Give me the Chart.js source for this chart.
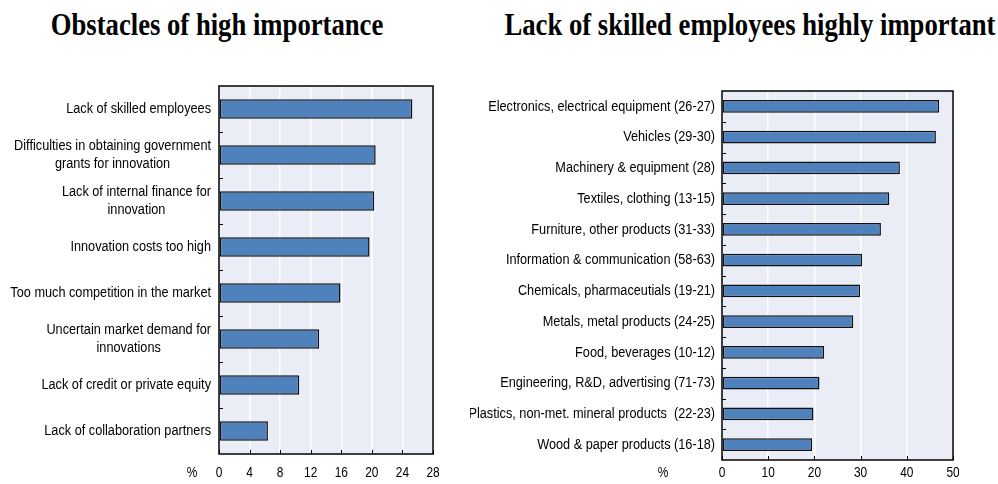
<!DOCTYPE html>
<html>
<head>
<meta charset="utf-8">
<script src="https://cdn.jsdelivr.net/npm/chart.js@4.4.1/dist/chart.umd.min.js"></script>
<style>
  body { margin: 0; background: #fff; width: 998px; height: 484px; position: relative; overflow: hidden; }
  .titre { position: absolute; top: 9px; font-family: 'Liberation Serif', 'Times New Roman', serif; font-weight: bold;
           font-size: 31px; line-height: 31px; white-space: nowrap; color: #000; transform: translateX(-50%) scaleX(0.86); }
  canvas { position: absolute; top: 0; }
</style>
</head>
<body>
<div class="titre" style="left:217px">Obstacles of high importance</div>
<div class="titre" style="left:750px">Lack of skilled employees highly important</div>
<canvas id="graficoSx" width="470" height="484" style="left:0"></canvas>
<canvas id="graficoDx" width="528" height="484" style="left:470px"></canvas>
<script>
// dati
const ostacoli = [
  'Lack of skilled employees',
  ['Difficulties in obtaining government', 'grants for innovation'],
  ['Lack of internal finance for', 'innovation'],
  'Innovation costs too high',
  'Too much competition in the market',
  ['Uncertain market demand for', 'innovations'],
  'Lack of credit or private equity',
  'Lack of collaboration partners'
];
const valoriOstacoli = [25.3, 20.5, 20.3, 19.7, 15.9, 13.1, 10.5, 6.4];
const tickOstacoli = [0, 4, 8, 12, 16, 20, 24, 28];

const settori = [
  'Electronics, electrical equipment (26-27)',
  'Vehicles (29-30)',
  'Machinery & equipment (28)',
  'Textiles, clothing (13-15)',
  'Furniture, other products (31-33)',
  'Information & communication (58-63)',
  'Chemicals, pharmaceutials (19-21)',
  'Metals, metal products (24-25)',
  'Food, beverages (10-12)',
  'Engineering, R&D, advertising (71-73)',
  'Plastics, non-met. mineral products  (22-23)',
  'Wood & paper products (16-18)'
];
const valoriSettori = [47.0, 46.3, 38.5, 36.2, 34.4, 30.3, 29.9, 28.4, 22.1, 21.1, 19.8, 19.5];
const tickSettori = [0, 10, 20, 30, 40, 50];

const blu = '#4f81bd';
const sfondo = '#eaedf6';
const font = "'Liberation Sans', Arial, sans-serif";
const stretto = 0.82; // testo compresso come nell'originale

function testo(ctx, s, x, y) {
  ctx.save();
  ctx.translate(x, y);
  ctx.scale(stretto, 1);
  ctx.fillText(s, 0, 0);
  ctx.restore();
}

// sfondo, bordo, tacche interne, etichette e simbolo %
const decorazioni = {
  id: 'decorazioni',
  beforeDraw(chart) {
    const a = chart.chartArea, ctx = chart.ctx;
    ctx.save();
    ctx.fillStyle = sfondo;
    ctx.fillRect(a.left, a.top, a.right - a.left, a.bottom - a.top);
    ctx.restore();
  },
  afterDraw(chart, args, opts) {
    const a = chart.chartArea, ctx = chart.ctx;
    const x = chart.scales.x, y = chart.scales.y;
    ctx.save();
    ctx.strokeStyle = '#000';
    ctx.lineWidth = 1.5;
    ctx.strokeRect(a.left, a.top, a.right - a.left, a.bottom - a.top);
    ctx.lineWidth = 1;
    ctx.beginPath();
    for (let i = 1; i < y.ticks.length; i++) {
      const yy = Math.round((y.getPixelForTick(i - 1) + y.getPixelForTick(i)) / 2) + 0.5;
      ctx.moveTo(a.left, yy);
      ctx.lineTo(a.left + 4, yy);
    }
    x.ticks.forEach((t, i) => {
      const xx = Math.round(x.getPixelForTick(i)) + 0.5;
      ctx.moveTo(xx, a.bottom);
      ctx.lineTo(xx, a.bottom - 4);
    });
    ctx.stroke();

    // etichette categorie: blocco allineato a destra, righe centrate
    ctx.fillStyle = '#000';
    ctx.font = '15.5px ' + font;
    ctx.textAlign = 'center';
    ctx.textBaseline = 'middle';
    const lh = 18;
    chart.data.labels.forEach((lab, i) => {
      const righe = Array.isArray(lab) ? lab : [lab];
      const w = Math.max(...righe.map(r => ctx.measureText(r).width)) * stretto;
      const cx = a.left - opts.gap - w / 2;
      const cy = y.getPixelForTick(i);
      righe.forEach((r, k) => {
        testo(ctx, r, cx, cy + (k - (righe.length - 1) / 2) * lh);
      });
    });

    // etichette asse x
    ctx.font = '14.5px ' + font;
    x.ticks.forEach((t, i) => {
      testo(ctx, String(t.value), x.getPixelForTick(i), opts.percY);
    });
    testo(ctx, '%', opts.percX, opts.percY);
    ctx.restore();
  }
};

function grafico(id, etichette, valori, ticks, max, spessore, layout) {
  return new Chart(document.getElementById(id), {
    type: 'bar',
    data: {
      labels: etichette,
      datasets: [{
        data: valori,
        backgroundColor: blu,
        borderColor: '#111',
        borderWidth: 1.5,
        borderSkipped: false,
        categoryPercentage: 1,
        barPercentage: spessore
      }]
    },
    options: {
      indexAxis: 'y',
      responsive: false,
      animation: false,
      layout: { padding: { top: layout.top, right: layout.right, left: 0, bottom: 0 } },
      plugins: {
        legend: { display: false },
        tooltip: { enabled: false },
        decorazioni: { gap: layout.gap, percX: layout.percX, percY: layout.percY }
      },
      scales: {
        x: {
          min: 0, max: max,
          afterBuildTicks: s => { s.ticks = ticks.map(v => ({ value: v })); },
          grid: { color: '#ffffff', lineWidth: 1.5, drawTicks: false },
          border: { display: false },
          ticks: { display: false },
          afterFit: s => { s.height = layout.xh; }
        },
        y: {
          grid: { display: false },
          border: { display: false },
          ticks: { display: false },
          afterFit: s => { s.width = layout.yw; }
        }
      }
    },
    plugins: [decorazioni]
  });
}

grafico('graficoSx', ostacoli, valoriOstacoli, tickOstacoli, 28, 0.42,
  { top: 86, right: 37, yw: 219, xh: 30, gap: 8, percX: 192, percY: 473 });
grafico('graficoDx', settori, valoriSettori, tickSettori, 50, 0.41,
  { top: 91, right: 45, yw: 252, xh: 24, gap: 7, percX: 193, percY: 473 });
</script>
</body>
</html>
